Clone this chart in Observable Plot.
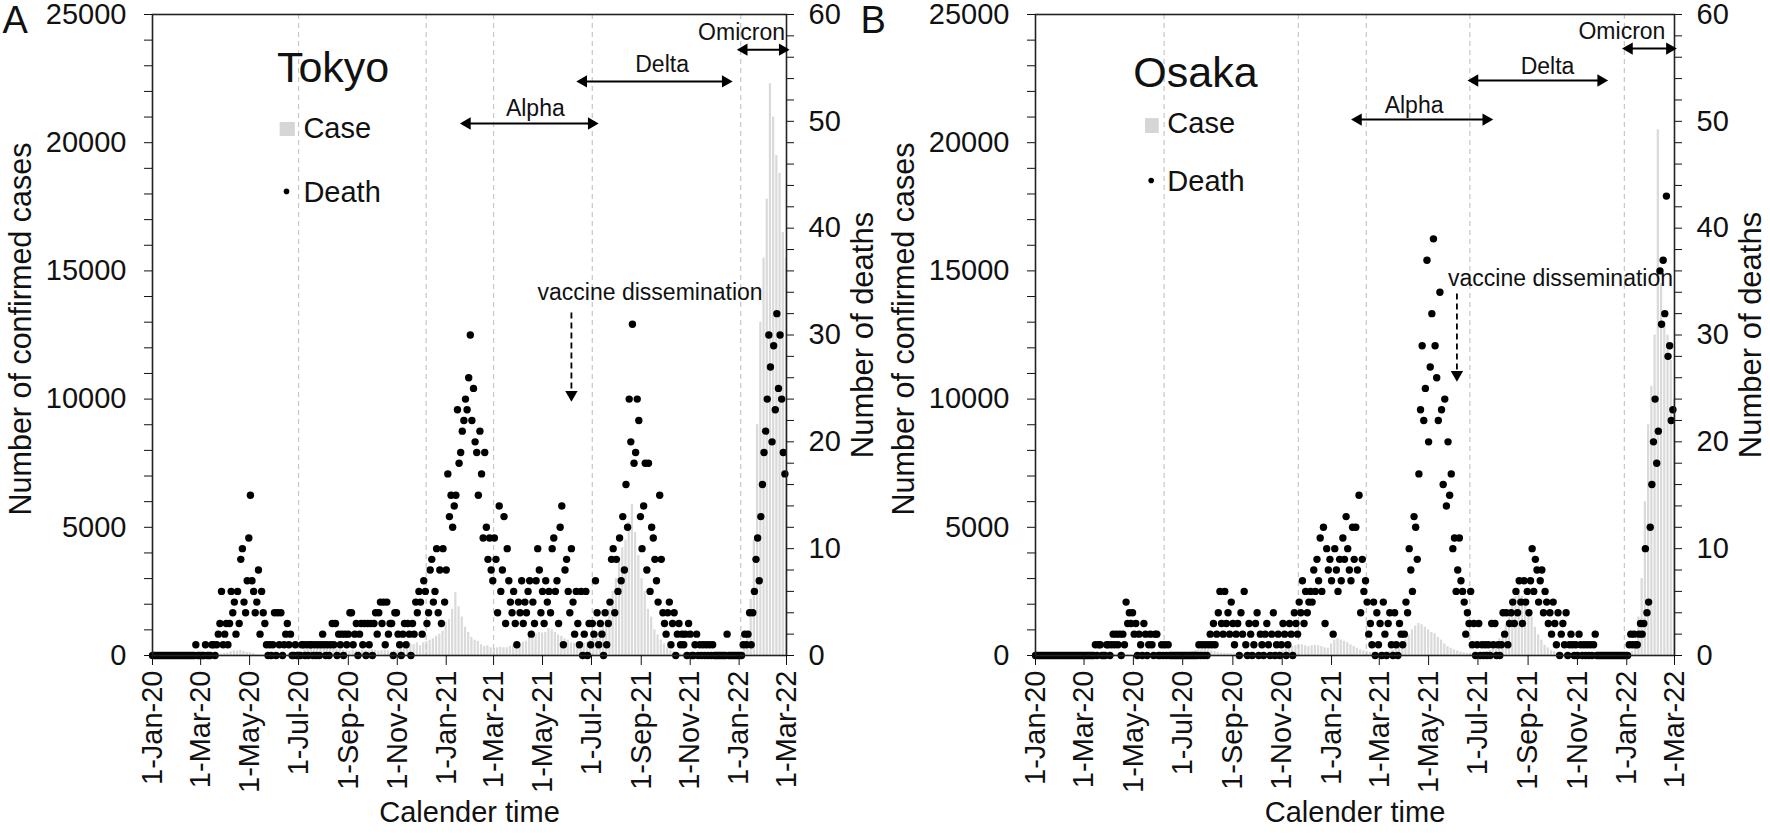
<!DOCTYPE html>
<html><head><meta charset="utf-8">
<script src="https://cdn.jsdelivr.net/npm/d3@7"></script>
<script src="https://cdn.jsdelivr.net/npm/@observablehq/plot@0.6"></script>
<style>
html,body{margin:0;padding:0;background:#fff;overflow:hidden;}
#wrap{position:relative;width:1770px;height:835px;}
#wrap svg{position:absolute;left:0;top:0;}
</style></head><body><div id="wrap"></div>
<script>
// ---- data ----
const startDate = "2020-01-01";
const endDate = "2022-03-01";
const deathStepDays = 2;   // one death value every 2 days
const caseStepDays = 4;    // one case value every 4 days
const caseMax = 25000;
const deathMax = 60;
const caseTicks = [0, 5000, 10000, 15000, 20000, 25000];
const deathTicks = [0, 10, 20, 30, 40, 50, 60];

const tokyoDeaths = [
 0,0,0,0,0,0,0,0,0,0,  0,0,0,0,0,0,0,0,0,0,  0,0,0,0,0,0,0,1,0,0,  0,0,0,1,0,0,0,1,1,0,
 1,2,3,6,1,2,3,1,3,6,  4,5,2,6,3,9,10,5,4,7,  11,15,7,6,4,5,8,2,6,4,  3,1,0,1,0,1,4,0,4,1,
 4,0,1,2,3,1,2,0,0,1,  0,0,0,1,1,0,1,0,1,1,  0,1,0,1,0,1,2,1,0,1,  0,1,3,1,3,0,2,1,2,0,
 2,1,2,4,4,1,2,3,0,2,  3,1,3,0,3,1,3,0,3,4,  2,4,5,3,5,1,5,2,3,3,  0,4,4,2,1,0,2,3,1,3,
 2,0,3,2,5,4,6,5,2,7,  6,3,4,8,9,5,6,10,4,8,  3,10,5,8,17,13,15,12,14,15,  23,18,19,21,22,24,23,26,30,22,
 25,20,19,15,21,17,11,19,12,9,  11,8,7,11,9,4,14,6,8,13,  3,10,7,5,4,6,3,1,5,4,  7,3,5,4,6,7,2,5,3,7,
 10,8,4,6,3,7,5,6,4,10,  11,6,7,3,12,14,1,8,9,6,  4,10,5,2,6,3,1,6,0,2,  6,0,3,1,3,2,7,4,1,3,
 2,0,4,1,3,5,9,10,4,9,  6,11,7,13,8,16,12,24,20,31,  18,19,24,22,13,10,14,18,8,18,  6,12,11,9,7,5,15,9,4,3,
 2,4,5,1,3,4,0,2,3,1,  2,1,2,0,3,2,0,0,1,2,  0,1,0,1,0,1,0,1,0,1,  0,0,0,0,0,0,0,0,2,0,
 0,0,0,0,0,0,0,0,1,2,  1,2,4,1,4,6,9,11,7,13,  16,19,21,24,30,27,20,29,23,32,  25,30,24,19,17
];
const osakaDeaths = [
 0,0,0,0,0,0,0,0,0,0,  0,0,0,0,0,0,0,0,0,0,  0,0,0,0,0,0,0,0,0,0,  0,0,0,0,0,0,0,1,0,1,
 1,0,0,0,1,1,0,1,2,1,  2,1,2,0,2,1,5,3,4,3,  4,2,3,0,2,1,0,3,2,0,  1,2,1,0,2,2,0,0,1,0,
 1,0,1,0,0,0,0,0,0,0,  0,0,0,0,0,0,0,0,0,0,  0,1,0,1,0,1,0,1,2,1,  3,1,2,4,6,3,2,6,3,4,
 2,5,3,1,2,3,0,4,2,6,  1,0,3,2,0,1,3,4,0,2,  1,0,2,3,1,0,2,4,0,1,  2,0,1,3,2,0,1,3,2,0,
 4,3,2,5,4,7,3,6,4,5,  6,5,8,6,9,7,11,6,12,3,  10,8,9,7,2,10,8,6,9,7,  11,9,13,10,8,7,12,9,12,8,
 15,4,9,6,7,5,2,3,1,5,  0,4,1,3,0,5,2,0,3,4,  1,0,4,1,0,3,2,1,2,5,  4,10,8,6,13,12,9,17,23,29,
 22,25,37,20,27,32,39,29,26,22,  34,23,16,24,14,20,15,17,10,11,  6,8,11,7,6,5,2,4,3,6,  1,3,0,1,3,0,1,0,1,0,
 1,0,3,1,3,0,1,0,1,4,  2,4,1,3,4,5,3,6,4,7,  5,3,7,5,6,4,7,10,6,9,  8,5,7,8,4,6,5,3,4,2,
 5,3,1,4,0,2,3,1,4,0,  1,2,1,0,1,0,2,1,0,1,  0,1,0,1,0,1,2,0,0,0,  0,0,0,0,0,0,0,0,0,0,
 0,0,0,0,0,0,0,1,2,1,  2,1,1,2,3,2,3,10,4,5,  12,16,20,24,18,21,36,31,37,32,  43,28,29,22,23
];
const tokyoCases = [
 0,0,0,0,0,0,1,2,1,2,  2,3,5,3,4,6,8,10,12,30,  40,60,80,100,140,180,170,200,150,120,
 110,80,40,25,15,10,8,12,20,25,  30,45,60,55,100,130,140,220,240,280,  240,300,350,430,380,340,260,250,230,200,
 180,160,200,180,170,200,190,180,230,200,  170,190,200,180,150,200,190,260,330,400,
 450,420,500,380,500,540,600,650,750,830,  950,1300,1400,1800,2450,1900,1500,1100,900,700,
 600,550,420,350,380,300,280,300,320,300,  300,350,400,420,450,520,560,700,750,850,
 900,880,900,1050,1000,900,800,750,650,600,  500,480,450,440,480,520,600,700,850,1000,
 1200,1400,1800,2500,3000,3800,4200,4500,5200,5900,  4800,3900,3000,2500,1800,1500,1000,800,600,450,
 300,200,150,100,80,60,50,40,30,25,  20,20,25,20,15,20,25,20,25,30,
 35,40,60,100,300,900,2200,4500,9000,13000,  15500,17800,22300,21000,19500,18800,16500,15500
];
const osakaCases = [
 0,0,0,0,0,0,0,0,0,0,  0,0,1,1,2,3,4,5,8,10,  15,25,40,50,60,70,65,50,40,30,
 20,10,5,3,2,2,3,3,5,8,  10,15,20,25,40,60,80,120,150,180,  200,220,250,220,180,150,120,100,90,80,
 70,60,60,55,60,50,55,60,65,70,  75,80,90,110,130,150,200,260,300,350,
 380,400,420,380,350,380,400,380,350,300,  280,450,600,650,600,550,500,420,350,280,
 220,180,150,120,100,90,80,100,120,150,  200,280,350,450,600,800,1000,1150,1250,1200,
 1100,1000,900,850,700,600,450,350,280,220,  180,130,100,80,70,60,60,70,100,150,
 200,300,450,650,900,1200,1600,2000,2300,2400,  2300,2100,1800,1500,1100,800,600,400,300,200,
 150,100,70,50,40,30,20,15,10,10,  10,8,8,10,10,8,10,12,15,15,
 20,25,30,60,150,500,1500,3000,6000,9000,  10500,12500,20500,14500,13000,12500,11500,10000
];

// ---- annotation layout (data units: dates / confirmed-case units) ----
const panels = [
 {letter: "A", letterDx: -150, marginLeft: 152, marginRight: 1770 - 786,
  city: "Tokyo", cityAt: ["2020-06-04", 22350],
  deaths: tokyoDeaths, cases: tokyoCases,
  legendRect: ["2020-06-08", "2020-06-27", 20240, 20790], caseText: ["2020-07-07", 20200],
  deathDot: ["2020-06-16", 18100], deathText: ["2020-07-07", 17670],
  variants: [
   {name: "Alpha", text: ["2021-04-22", 21060], from: "2021-01-22", to: "2021-07-06", y: 20750},
   {name: "Delta", text: ["2021-09-27", 22740], from: "2021-06-16", to: "2021-12-20", y: 22390},
   {name: "Omicron", text: ["2022-01-04", 24020], from: "2022-01-02", to: "2022-03-01", y: 23630}
  ],
  vaccine: {text: ["2021-09-12", 13850], anchor: "middle", at: "2021-06-06", y1: 13380, y2: 10020},
  dashes: ["2020-07-01", "2020-12-07", "2021-03-01", "2021-07-02", "2022-01-03"]},
 {letter: "B", letterDx: -175, marginLeft: 1035, marginRight: 1770 - 1674,
  city: "Osaka", cityAt: ["2020-05-01", 22190],
  deaths: osakaDeaths, cases: osakaCases,
  legendRect: ["2020-05-16", "2020-06-02", 20360, 20940], caseText: ["2020-06-12", 20360],
  deathDot: ["2020-05-23", 18525], deathText: ["2020-06-12", 18135],
  variants: [
   {name: "Alpha", text: ["2021-04-13", 21140], from: "2021-01-29", to: "2021-07-16", y: 20900},
   {name: "Delta", text: ["2021-09-25", 22660], from: "2021-06-22", to: "2021-12-05", y: 22425},
   {name: "Omicron", text: ["2021-12-26", 24060], from: "2021-12-30", to: "2022-02-28", y: 23670}
  ],
  vaccine: {text: ["2021-05-25", 14430], anchor: "start", at: "2021-06-05", y1: 14120, y2: 10800},
  dashes: ["2020-06-08", "2020-11-21", "2021-02-13", "2021-06-21", "2021-12-29"]}
];

// ---- drawing ----
const D = s => new Date(s);
const t0 = D(startDate);
const k = caseMax / deathMax;
const series = (vals, step) => vals.map((v, i) => ({date: d3.utcDay.offset(t0, i * step), end: d3.utcDay.offset(t0, (i + 1) * step), value: v}));
const xTicks = d3.utcMonth.every(2).range(D(startDate), d3.utcDay.offset(D(endDate), 1));
const FONT = "'Liberation Sans', Arial, Helvetica, sans-serif";
const wrap = document.getElementById("wrap");

for (const p of panels) {
  const cases = series(p.cases, caseStepDays);
  const deaths = series(p.deaths, deathStepDays);
  const arrows = p.variants.map(v => ({x1: D(v.from), x2: D(v.to), y: v.y}));
  const chart = Plot.plot({
    width: 1770, height: 835,
    marginLeft: p.marginLeft, marginRight: p.marginRight, marginTop: 14, marginBottom: 180,
    style: {background: "transparent", fontFamily: FONT, color: "#111", overflow: "visible"},
    x: {type: "utc", domain: [D(startDate), D(endDate)]},
    y: {domain: [0, caseMax]},
    marks: [
      Plot.rectY(cases, {x1: "date", x2: "end", y: "value", fill: "#dadada", insetLeft: 0.5, insetRight: 0.5, clip: true}),
      Plot.ruleX(p.dashes.map(D), {stroke: "#c6c6c6", strokeWidth: 1.2, strokeDasharray: "5,4"}),
      Plot.dot(deaths, {x: "date", y: d => d.value * k, r: 3.7, fill: "#000", stroke: "none"}),
      Plot.frame({stroke: "#222", strokeWidth: 1.6}),
      Plot.axisY(d3.range(0, caseMax + 1, 1000), {anchor: "left", tickSize: 8, tickPadding: 18, fontSize: 29, label: null,
        tickFormat: v => caseTicks.includes(v) ? String(v) : ""}),
      Plot.axisY(d3.range(0, deathMax + 1, 2).map(v => v * k), {anchor: "right", tickSize: 7, tickPadding: 15, fontSize: 29, label: null,
        tickFormat: v => { const d = Math.round(v / k); return deathTicks.includes(d) ? String(d) : ""; }}),
      Plot.axisX(xTicks, {tickFormat: d3.utcFormat("%-d-%b-%y"), tickRotate: -90, tickSize: 10, tickPadding: 5, fontSize: 29, label: null}),
      Plot.text(["Number of confirmed cases"], {frameAnchor: "left", rotate: -90, dx: -131, dy: -6, fontSize: 30.5, textAnchor: "middle", lineAnchor: "middle"}),
      Plot.text(["Number of deaths"], {frameAnchor: "right", rotate: -90, dx: 77, fontSize: 31, textAnchor: "middle", lineAnchor: "middle"}),
      Plot.text(["Calender time"], {frameAnchor: "bottom", dy: 166, fontSize: 29, textAnchor: "middle", lineAnchor: "bottom"}),
      Plot.text([p.letter], {frameAnchor: "top-left", dx: p.letterDx, dy: -8, fontSize: 38, textAnchor: "start", lineAnchor: "top"}),
      // city + legend
      Plot.text([p.city], {x: () => D(p.cityAt[0]), y: () => p.cityAt[1], fontSize: 43, textAnchor: "start", lineAnchor: "bottom"}),
      Plot.rect([p.legendRect], {x1: d => D(d[0]), x2: d => D(d[1]), y1: d => d[2], y2: d => d[3], fill: "#d6d6d6"}),
      Plot.text(["Case"], {x: () => D(p.caseText[0]), y: () => p.caseText[1], fontSize: 29, textAnchor: "start", lineAnchor: "bottom"}),
      Plot.dot([p.deathDot], {x: d => D(d[0]), y: d => d[1], r: 2.8, fill: "#000", stroke: "none"}),
      Plot.text(["Death"], {x: () => D(p.deathText[0]), y: () => p.deathText[1], fontSize: 29, textAnchor: "start", lineAnchor: "bottom"}),
      // variant periods (double-headed arrows)
      Plot.link(arrows, {x1: "x1", x2: "x2", y1: "y", y2: "y", stroke: "#000", strokeWidth: 2}),
      Plot.dot(arrows, {x: "x1", y: "y", dx: 4, symbol: "triangle", rotate: -90, r: 4.6, fill: "#000", stroke: "none"}),
      Plot.dot(arrows, {x: "x2", y: "y", dx: -4, symbol: "triangle", rotate: 90, r: 4.6, fill: "#000", stroke: "none"}),
      Plot.text(p.variants, {x: d => D(d.text[0]), y: d => d.text[1], text: "name", fontSize: 23, textAnchor: "middle", lineAnchor: "bottom"}),
      // vaccine dissemination
      Plot.text(["vaccine dissemination"], {x: () => D(p.vaccine.text[0]), y: () => p.vaccine.text[1], fontSize: 23, textAnchor: p.vaccine.anchor, lineAnchor: "bottom"}),
      Plot.link([p.vaccine], {x1: d => D(d.at), x2: d => D(d.at), y1: "y1", y2: "y2", stroke: "#000", strokeWidth: 1.8, strokeDasharray: "6,4"}),
      Plot.dot([p.vaccine], {x: d => D(d.at), y: "y2", dy: -4, symbol: "triangle", rotate: 180, r: 4.6, fill: "#000", stroke: "none"})
    ]
  });
  wrap.appendChild(chart);
}
</script>
</body></html>
